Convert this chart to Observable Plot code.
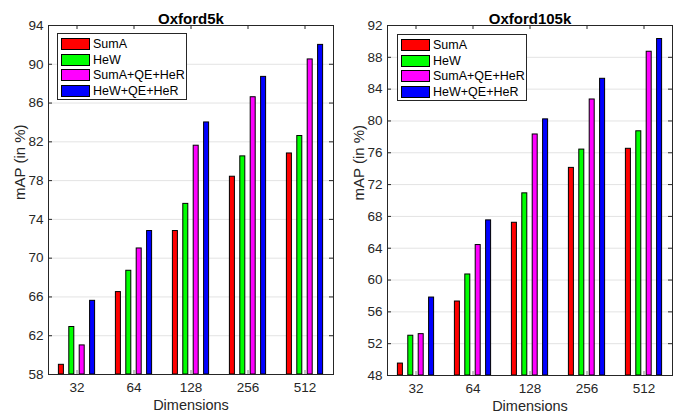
<!DOCTYPE html>
<html>
<head>
<meta charset="utf-8">
<script src="https://cdn.jsdelivr.net/npm/d3@7"></script>
<script src="https://cdn.jsdelivr.net/npm/@observablehq/plot@0.6"></script>
<style>
  body { margin: 0; background: #fff; }
  #wrap { display: flex; width: 680px; height: 416px; }
  .panel { position: relative; width: 340px; height: 416px; }
  .panel svg { display: block; }
  .legend { position: absolute; background: #fff; border: 1px solid #262626; box-sizing: border-box;
            font-family: "Liberation Sans", Arial, sans-serif; font-size: 12.5px; color: #000; }
  .item { position: absolute; left: 3px; height: 12px; display: flex; align-items: center; white-space: nowrap; }
  .sw { width: 29px; height: 12px; box-sizing: border-box; border: 1px solid #000; margin-right: 3px; }
</style>
</head>
<body>
<div id="wrap"></div>
<script>
// ---- data ----
const dims = ["32", "64", "128", "256", "512"];
const series = ["SumA", "HeW", "SumA+QE+HeR", "HeW+QE+HeR"];
const colors = ["#ff0000", "#00ff00", "#ff00ff", "#0000ff"];

const oxford5kSumA     = [59.0, 66.5, 72.8, 78.4, 80.8];
const oxford5kHeW      = [62.9, 68.7, 75.6, 80.5, 82.6];
const oxford5kSumAQE   = [61.0, 71.0, 81.6, 86.6, 90.5];
const oxford5kHeWQE    = [65.6, 72.8, 84.0, 88.7, 92.0];

const oxford105kSumA   = [49.5, 57.3, 67.2, 74.1, 76.5];
const oxford105kHeW    = [53.0, 60.7, 70.9, 76.4, 78.7];
const oxford105kSumAQE = [53.2, 64.4, 78.3, 82.7, 88.7];
const oxford105kHeWQE  = [57.8, 67.5, 80.2, 85.3, 90.3];

const yTicks5k   = [58, 62, 66, 70, 74, 78, 82, 86, 90, 94];
const yTicks105k = [48, 52, 56, 60, 64, 68, 72, 76, 80, 84, 88, 92];

const FONT = '"Liberation Sans", Arial, Helvetica, sans-serif';
const AX = "#262626";

function panel(title, vals, yTicks, m, legendTop) {
  const W = 340, H = 416;
  const data = [];
  series.forEach((s, j) => dims.forEach((d, i) => data.push({dim: d, series: s, value: vals[j][i]})));
  const yMin = yTicks[0], yMax = yTicks[yTicks.length - 1];
  const xr = [m.left - 1.5, W - m.right + 1.5];
  const bw = (xr[1] - xr[0]) / dims.length;
  const barW = 5.6, step = 10.4;
  const innerW = W - m.left - m.right, innerH = H - m.top - m.bottom;

  const plot = Plot.plot({
    width: W, height: H,
    marginTop: m.top, marginBottom: m.bottom, marginLeft: m.left, marginRight: m.right,
    style: {fontFamily: FONT, fontSize: "13.5px", color: AX, background: "#fff"},
    x: {type: "band", domain: dims, range: xr, padding: 0},
    y: {domain: [yMin, yMax]},
    marks: [
      Plot.ruleY(yTicks.slice(1, -1), {stroke: "#e3e3e3"}),
      ...series.map((s, j) => {
        const off = (j - 1.5) * step;
        const c = (bw - barW) / 2;
        return Plot.barY(data.filter(d => d.series === s), {
          x: "dim", y1: () => yMin, y2: "value",
          fill: colors[j], stroke: "#000", strokeWidth: 1,
          insetLeft: c + off, insetRight: c - off
        });
      }),
      Plot.ruleY(yTicks, {insetRight: innerW - 4, stroke: AX}),
      Plot.ruleY(yTicks, {insetLeft: innerW - 4, stroke: AX}),
      Plot.ruleX(dims, {x: d => d, insetTop: innerH - 4, stroke: "#888"}),
      Plot.ruleX(dims, {x: d => d, insetBottom: innerH - 4, stroke: AX}),
      Plot.frame({stroke: AX}),
      Plot.axisY(yTicks, {tickSize: 0, tickPadding: 5, fontSize: 13.5, label: null}),
      Plot.axisX({tickSize: 0, tickPadding: 8, fontSize: 13.5, label: null}),
      Plot.text([title], {text: d => d, frameAnchor: "top", dy: -12, fontWeight: "bold", fontSize: 15, fill: "#000"}),
      Plot.text(["Dimensions"], {text: d => d, frameAnchor: "bottom", dy: 35.5, fontSize: 14.5, fill: AX}),
      Plot.text(["mAP (in %)"], {text: d => d, frameAnchor: "left", dx: -28, rotate: -90, fontSize: 15, fill: AX})
    ]
  });

  const div = document.createElement("div");
  div.className = "panel";
  div.appendChild(plot);

  const lg = document.createElement("div");
  lg.className = "legend";
  lg.style.left = "57px";
  lg.style.top = legendTop + "px";
  lg.style.width = "130px";
  lg.style.height = "67px";
  series.forEach((s, j) => {
    const it = document.createElement("div");
    it.className = "item";
    it.style.top = (4 + j * 15.7) + "px";
    const sw = document.createElement("div");
    sw.className = "sw";
    sw.style.background = colors[j];
    const tx = document.createElement("span");
    tx.textContent = s;
    it.appendChild(sw);
    it.appendChild(tx);
    lg.appendChild(it);
  });
  div.appendChild(lg);
  return div;
}

const wrap = document.getElementById("wrap");
wrap.appendChild(panel("Oxford5k",
  [oxford5kSumA, oxford5kHeW, oxford5kSumAQE, oxford5kHeWQE],
  yTicks5k, {top: 25, bottom: 42, left: 48, right: 7}, 33));
wrap.appendChild(panel("Oxford105k",
  [oxford105kSumA, oxford105kHeW, oxford105kSumAQE, oxford105kHeWQE],
  yTicks105k, {top: 25, bottom: 41, left: 47, right: 8}, 34));
</script>
</body>
</html>
